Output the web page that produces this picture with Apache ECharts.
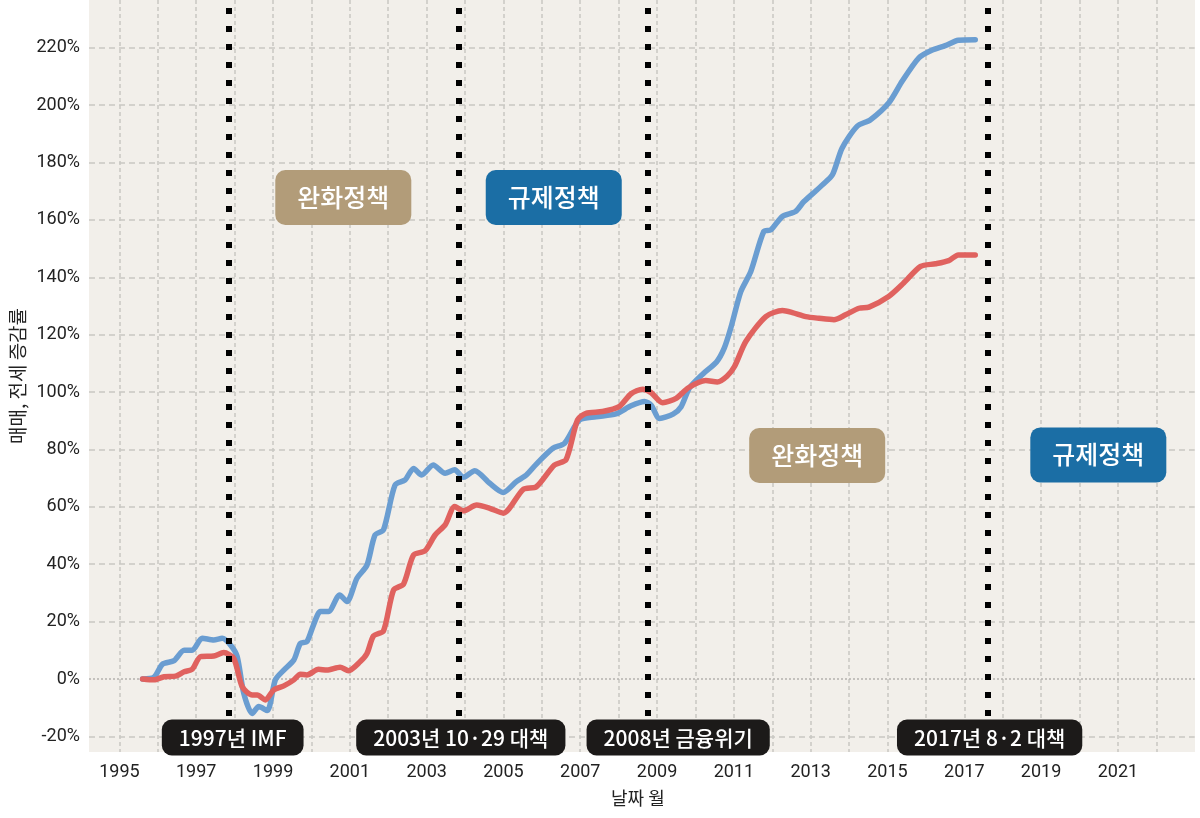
<!DOCTYPE html>
<html>
<head>
<meta charset="utf-8">
<script src="https://cdn.jsdelivr.net/npm/echarts@6/dist/echarts.min.js"></script>
<style>
  html, body { margin: 0; padding: 0; background: #fff; overflow: hidden; }
  #chart { width: 1200px; height: 818px; display: block; }
</style>
</head>
<body>
<div id="chart"></div>
<script>
// 매매 (blue) - 시점(연도, 소수) / 증감률(%)
var saleYears = [1995.67, 1995.97, 1996.19, 1996.49, 1996.75, 1996.96, 1997.22, 1997.52, 1997.74, 1997.96,
  1998.13, 1998.30, 1998.52, 1998.69, 1998.91, 1999.12, 1999.34, 1999.60, 1999.77, 1999.94,
  2000.11, 2000.29, 2000.50, 2000.79, 2000.98, 2001.24, 2001.50, 2001.71, 2001.93, 2002.23,
  2002.49, 2002.71, 2002.92, 2003.22, 2003.53, 2003.78, 2004.00, 2004.30, 2004.69, 2005.04,
  2005.38, 2005.64, 2005.90, 2006.33, 2006.63, 2007.02, 2007.45, 2007.97, 2008.36, 2008.71,
  2008.88, 2009.10, 2009.45, 2009.66, 2009.88, 2010.24, 2010.58, 2010.78, 2010.95, 2011.21,
  2011.47, 2011.81, 2011.99, 2012.29, 2012.63, 2012.85, 2013.15, 2013.33, 2013.59, 2013.84,
  2014.23, 2014.58, 2015.05, 2015.40, 2015.83, 2016.17, 2016.52, 2016.86, 2017.30];
var saleValues = [0, 0.6, 5.2, 6.4, 10, 10, 14.2, 13.6, 14.2, 11.8,
  7.8, -5, -12, -9.6, -11, -0.3, 3.1, 6.6, 12.4, 13,
  18.8, 23.5, 23.5, 29.3, 27, 35.1, 39.7, 50.2, 52, 67.6,
  69.4, 73.4, 71.1, 74.6, 71.7, 72.9, 70.3, 72.6, 68.2, 65,
  68.8, 71.1, 74.9, 80.4, 82.1, 90.3, 91.4, 92.4, 95.2, 96.7,
  95.5, 90.8, 92.3, 94.9, 101.5, 106.5, 110.5, 115.3, 122.3, 135,
  142, 156, 156.5, 161.2, 162.9, 166.4, 170, 172.2, 175.7, 185,
  192.6, 194.9, 200.7, 208.3, 216.4, 219.1, 220.7, 222.6, 222.8];

// 전세 (red)
var jeonseYears = [1995.67, 1995.97, 1996.23, 1996.53, 1996.75, 1996.96, 1997.18, 1997.52, 1997.78, 1998.04,
  1998.26, 1998.52, 1998.65, 1998.86, 1999.08, 1999.34, 1999.60, 1999.77, 1999.94, 2000.24,
  2000.46, 2000.80, 2001.02, 2001.32, 2001.50, 2001.67, 2001.93, 2002.19, 2002.45, 2002.71,
  2003.01, 2003.27, 2003.53, 2003.78, 2004.00, 2004.35, 2004.69, 2005.04, 2005.56, 2005.90,
  2006.37, 2006.67, 2006.97, 2007.19, 2007.62, 2008.05, 2008.36, 2008.66, 2008.88, 2009.18,
  2009.53, 2009.85, 2010.30, 2010.60, 2010.85, 2011.05, 2011.34, 2011.86, 2012.29, 2012.55,
  2012.90, 2013.24, 2013.63, 2013.93, 2014.28, 2014.54, 2015.05, 2015.44, 2015.88, 2016.27,
  2016.61, 2016.86, 2017.30];
var jeonseValues = [0, -0.3, 0.8, 1, 2.5, 3.4, 7.8, 8, 9.2, 7.2,
  -2.7, -5.6, -5.6, -7.3, -3.8, -2.4, -0.3, 1.7, 1.4, 3.4,
  3.1, 4.1, 2.9, 6, 8.9, 15, 16.8, 31, 33.1, 43.2,
  44.7, 50.2, 53.7, 60.1, 58.6, 60.6, 59.5, 57.8, 66.1, 67,
  74.6, 76.4, 90.3, 92.6, 93.2, 94.9, 99.4, 101, 99.8, 96.3,
  97.8, 101.5, 104, 103.5, 105.5, 109, 117.6, 126.3, 128.4, 127.7,
  126.3, 125.7, 125.2, 126.9, 129.2, 129.6, 133.3, 138, 143.8, 144.7,
  145.8, 147.8, 147.8];

// 정책 이벤트 (점선)
var eventYears = [1997.86, 2003.83, 2008.77, 2017.61];
var eventLabels = ['1997년 IMF', '2003년 10·29 대책', '2008년 금융위기', '2017년 8·2 대책'];
var eventLabelYears = [1997.95, 2003.89, 2009.55, 2017.66];

// 정책 구간 표시
var policyTexts = ['완화정책', '규제정책', '완화정책', '규제정책'];
var policyKinds = ['ease', 'reg', 'ease', 'reg'];
var policyCoords = [[2000.83, 167.8], [2006.31, 167.8], [2013.17, 77.9], [2020.49, 78.1]];

var yTicks = [-20, 0, 20, 40, 60, 80, 100, 120, 140, 160, 180, 200, 220];
var lastYearLabel = 2021;

var chart = echarts.init(document.getElementById('chart'));

function pairs(xs, ys) {
  return xs.map(function (x, i) { return [x, ys[i]]; });
}

var numFont = 'Roboto, "Noto Sans", sans-serif';
var krFont = '"Noto Sans CJK KR", "Noto Sans", sans-serif';
var gridColor = '#c9c7c2';

var policyColor = { ease: '#b29c79', reg: '#1b6ea5' };

var eventPoints = eventLabels.map(function (t, i) {
  return {
    coord: [eventLabelYears[i], -20.4],
    value: t,
    symbol: 'rect',
    symbolSize: 1,
    itemStyle: { color: 'rgba(0,0,0,0)' },
    label: {
      show: true,
      position: 'inside',
      formatter: t,
      color: '#fff',
      fontFamily: krFont,
      fontWeight: 500,
      fontSize: 21,
      lineHeight: 24,
      backgroundColor: '#1c1a19',
      borderRadius: 10,
      padding: [6, 17]
    }
  };
});

var policyPoints = policyTexts.map(function (t, i) {
  return {
    coord: policyCoords[i],
    value: t,
    symbol: 'rect',
    symbolSize: 1,
    itemStyle: { color: 'rgba(0,0,0,0)' },
    label: {
      show: true,
      position: 'inside',
      formatter: t,
      color: '#fff',
      fontFamily: krFont,
      fontWeight: 500,
      fontSize: 25,
      lineHeight: 29,
      backgroundColor: policyColor[policyKinds[i]],
      borderRadius: 10,
      padding: [13, 22]
    }
  };
});

var option = {
  backgroundColor: '#fff',
  animation: false,
  graphic: [{
    type: 'rect',
    z: -10,
    silent: true,
    shape: { x: 89, y: 0, width: 1106, height: 752 },
    style: { fill: '#f2efea' }
  }],
  grid: [
    { left: 89, right: 5.3, top: 47.7, bottom: 81.6 },
    { left: 78.2, right: 5.3, top: 0, bottom: 66 }
  ],
  xAxis: [
    { type: 'value', gridIndex: 0, min: 1994.28, max: 2023, show: false },
    {
      type: 'value', gridIndex: 1, min: 1994, max: 2023, interval: 1,
      name: '날짜 월', nameLocation: 'middle', nameGap: 37,
      nameTextStyle: { fontFamily: krFont, fontSize: 18, color: '#222' },
      axisLine: { show: false }, axisTick: { show: false },
      axisLabel: {
        margin: 11, fontFamily: numFont, fontSize: 18, color: '#222',
        formatter: function (v) { return (v % 2 === 1 && v <= lastYearLabel) ? String(v) : ''; }
      },
      splitLine: {
        show: true, showMinLine: false, showMaxLine: false,
        lineStyle: { color: gridColor, width: 1.5, type: [4, 3] }
      }
    }
  ],
  yAxis: [
    {
      type: 'value', gridIndex: 0, min: -20, max: 220, interval: 20,
      axisLine: { show: false }, axisTick: { show: false },
      axisLabel: {
        margin: 9, fontFamily: numFont, fontSize: 18, color: '#222',
        formatter: '{value}%'
      },
      splitLine: {
        show: true,
        lineStyle: {
          color: yTicks.map(function (v) { return v === 0 ? 'rgba(0,0,0,0)' : gridColor; }),
          width: 1.5, type: [6, 4]
        }
      }
    },
    {
      type: 'value', gridIndex: 1, min: -25.44, max: 236.63,
      name: '매매, 전세 증감률', nameLocation: 'middle', nameGap: 54, nameRotate: 90,
      nameTextStyle: { fontFamily: krFont, fontSize: 19, color: '#222' },
      axisLine: { show: false }, axisTick: { show: false },
      axisLabel: { show: false }, splitLine: { show: false }
    }
  ],
  series: [
    {
      name: '매매',
      type: 'line',
      xAxisIndex: 0, yAxisIndex: 0,
      data: pairs(saleYears, saleValues),
      showSymbol: false,
      clip: false,
      smooth: 0.25,
      lineStyle: { color: '#6a9dd1', width: 5.5, join: 'round', cap: 'round' },
      z: 3,
      markLine: {
        silent: true, symbol: 'none', label: { show: false },
        lineStyle: { color: '#b5b3ae', width: 1.5, type: [2, 2] },
        data: [{ yAxis: 0 }],
        z: 1
      }
    },
    {
      name: '전세',
      type: 'line',
      xAxisIndex: 0, yAxisIndex: 0,
      data: pairs(jeonseYears, jeonseValues),
      showSymbol: false,
      clip: false,
      smooth: 0.25,
      lineStyle: { color: '#e0625f', width: 5.5, join: 'round', cap: 'round' },
      z: 4
    },
    {
      name: 'events',
      type: 'line',
      xAxisIndex: 1, yAxisIndex: 1,
      data: [[2000, 0]],
      showSymbol: false,
      lineStyle: { opacity: 0 },
      silent: true,
      z: 5,
      markLine: {
        silent: true, symbol: 'none', label: { show: false },
        lineStyle: { color: '#000', width: 6, type: [6, 12] },
        data: eventYears.map(function (x) { return { xAxis: x }; })
      },
      markPoint: {
        silent: true,
        data: eventPoints.concat(policyPoints)
      }
    }
  ]
};

chart.setOption(option);
</script>
</body>
</html>
